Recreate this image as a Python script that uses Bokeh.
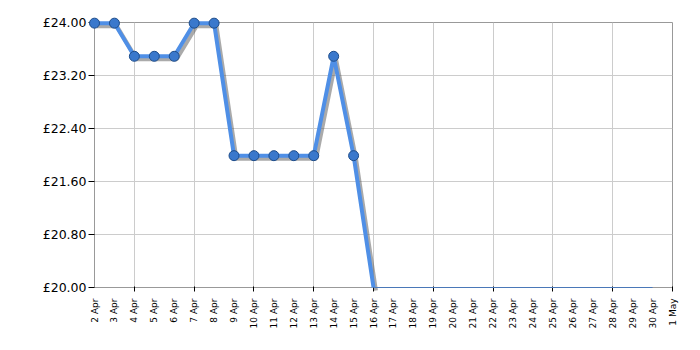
import math
from bokeh.plotting import figure
from bokeh.models import FixedTicker, PrintfTickFormatter, Range1d, ColumnDataSource
from bokeh.transform import dodge
from bokeh.embed import file_html
from bokeh.resources import INLINE

# Day labels along the x axis (index 0 = 2 Apr)
day_labels = [f"{d} Apr" for d in range(2, 31)] + ["1 May"]
# Price series, 2 Apr .. 16 Apr (16 Apr sits on the chart floor)
price_days = list(range(0, 15))
prices = [23.99, 23.99, 23.49, 23.49, 23.49, 23.99, 23.99,
          21.99, 21.99, 21.99, 21.99, 21.99, 23.49, 21.99, 20.00]
# Floor line 16 Apr .. 30 Apr
floor_days = list(range(14, 29))
floor_prices = [20.00] * len(floor_days)
y_ticks = [20.0, 20.8, 21.6, 22.4, 23.2, 24.0]

p = figure(width=700, height=350, output_backend="svg", toolbar_location=None,
           x_range=Range1d(0, 29), y_range=Range1d(20, 24))
p.min_border_left = 94
p.min_border_right = 28
p.min_border_top = 22
p.min_border_bottom = 63
p.outline_line_color = "#999999"
p.background_fill_color = "white"
p.border_fill_color = "white"

src = ColumnDataSource(dict(x=price_days, y=prices))
mk = ColumnDataSource(dict(x=price_days[:-1], y=prices[:-1]))
fl = ColumnDataSource(dict(x=floor_days, y=floor_prices))

# shadow
p.line(x=dodge("x", 0.12, range=p.x_range), y=dodge("y", -0.045, range=p.y_range),
       source=src, line_color="#555555", line_alpha=0.5, line_width=4, level="overlay")
p.line(x="x", y="y", source=fl, line_color="#4a78b8", line_width=1.2, level="overlay")
p.line(x="x", y="y", source=src, line_color="#4f8fe6", line_width=4, level="overlay")
p.scatter(x="x", y="y", source=mk, size=10, fill_color="#3a78cc",
          line_color="#1d4c8a", line_width=1, level="overlay")

xt = FixedTicker(ticks=list(range(0, 30)), minor_ticks=list(range(2, 30, 3)))
p.xaxis.ticker = xt
p.xaxis.major_label_overrides = {i: s for i, s in enumerate(day_labels)}
p.xaxis.major_label_orientation = math.pi / 2
p.xaxis.major_label_text_font = "DejaVu Sans"
p.xaxis.major_label_text_font_size = "9px"
p.xaxis.major_label_text_color = "black"
p.xaxis.major_tick_line_color = None
p.xaxis.minor_tick_line_color = "black"
p.xaxis.minor_tick_out = 4
p.xaxis.minor_tick_in = 1
p.xaxis.major_label_standoff = 5
p.xaxis.axis_line_color = "#999999"

p.yaxis.ticker = FixedTicker(ticks=y_ticks, minor_ticks=[])
p.yaxis.formatter = PrintfTickFormatter(format="£%.2f")
p.yaxis.major_label_text_font = "DejaVu Sans"
p.yaxis.major_label_text_font_size = "12.5px"
p.yaxis.major_label_text_color = "black"
p.yaxis.major_tick_line_color = "black"
p.yaxis.major_tick_out = 6
p.yaxis.major_tick_in = 0
p.yaxis.major_label_standoff = 2
p.yaxis.axis_line_color = "#999999"

p.xgrid.grid_line_color = None
p.xgrid.minor_grid_line_color = "#cccccc"
p.ygrid.grid_line_color = "#cccccc"

open("out.html", "w").write(file_html(p, INLINE))
